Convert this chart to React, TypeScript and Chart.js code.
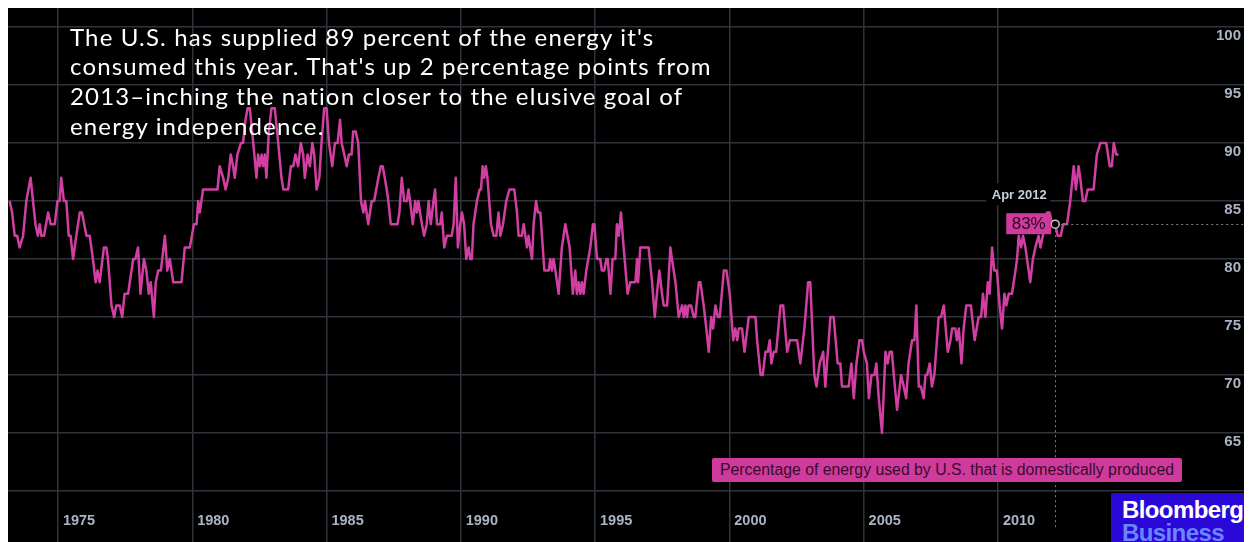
import React, { useEffect, useRef } from 'react';
import { Chart, registerables } from 'chart.js';

Chart.register(...registerables);

// ---- Data: percentage of energy used by U.S. that is domestically produced ----
// [decimal year, percent]
const SERIES_1973_1986: [number, number][] = [
  [1973.20, 85], [1973.29, 84], [1973.39, 82], [1973.48, 82], [1973.57, 81], [1973.70, 82], [1973.82, 85], [1973.98, 87],
  [1974.07, 85], [1974.16, 83], [1974.25, 82], [1974.32, 83], [1974.38, 82], [1974.48, 82], [1974.63, 84], [1974.73, 83],
  [1974.88, 83], [1974.98, 85], [1975.06, 85], [1975.12, 87], [1975.22, 85], [1975.31, 85], [1975.40, 82], [1975.47, 82],
  [1975.56, 80], [1975.68, 82], [1975.81, 84], [1975.89, 84], [1976.06, 82], [1976.18, 82], [1976.30, 80], [1976.40, 78],
  [1976.47, 79], [1976.55, 78], [1976.71, 81], [1976.80, 81], [1976.86, 80], [1976.99, 76], [1977.09, 75], [1977.17, 76],
  [1977.30, 76], [1977.39, 75], [1977.48, 77], [1977.61, 77], [1977.80, 80], [1977.88, 80], [1977.98, 81], [1978.07, 77],
  [1978.20, 80], [1978.29, 79], [1978.38, 77], [1978.45, 78], [1978.57, 75], [1978.64, 78], [1978.73, 79], [1978.83, 79],
  [1978.98, 82], [1979.07, 79], [1979.16, 80], [1979.29, 78], [1979.60, 78], [1979.72, 81], [1979.91, 81], [1980.06, 83],
  [1980.16, 83], [1980.22, 85], [1980.28, 84], [1980.40, 86], [1980.94, 86], [1981.02, 88], [1981.15, 87], [1981.24, 86],
  [1981.34, 87], [1981.43, 89], [1981.52, 88], [1981.58, 87], [1981.68, 89], [1981.81, 90], [1981.89, 90], [1981.98, 92],
  [1982.06, 93], [1982.14, 93], [1982.27, 90], [1982.39, 87], [1982.45, 89], [1982.52, 88], [1982.58, 89], [1982.64, 88],
  [1982.70, 89], [1982.76, 87], [1982.85, 91], [1982.95, 93], [1983.07, 93], [1983.20, 90], [1983.32, 87], [1983.39, 86],
  [1983.57, 86], [1983.67, 88], [1983.76, 88], [1983.84, 89], [1983.94, 88], [1984.04, 90], [1984.13, 89], [1984.19, 87],
  [1984.29, 89], [1984.38, 88], [1984.47, 90], [1984.54, 89], [1984.63, 86], [1984.73, 87], [1984.81, 90], [1984.91, 93],
  [1985.00, 93], [1985.09, 90], [1985.21, 88], [1985.31, 90], [1985.41, 90], [1985.50, 92], [1985.56, 90], [1985.66, 89],
  [1985.75, 88], [1985.83, 89], [1985.93, 89], [1985.99, 91], [1986.08, 91], [1986.18, 90], [1986.28, 85], [1986.37, 84],
  [1986.43, 85], [1986.55, 83],
];

const SERIES_1986_2000: [number, number][] = [
  [1986.68, 85], [1986.77, 85], [1986.93, 87], [1987.02, 88], [1987.09, 88], [1987.24, 86], [1987.30, 85], [1987.39, 83],
  [1987.64, 83], [1987.71, 84], [1987.80, 87], [1987.89, 85], [1987.99, 85], [1988.05, 86], [1988.11, 85], [1988.21, 83],
  [1988.30, 85], [1988.36, 84], [1988.42, 85], [1988.48, 84], [1988.55, 83], [1988.63, 82], [1988.73, 83], [1988.80, 85],
  [1988.88, 83], [1988.98, 85], [1989.04, 86], [1989.11, 83], [1989.23, 83], [1989.29, 84], [1989.38, 81], [1989.48, 82],
  [1989.66, 82], [1989.73, 83], [1989.81, 87], [1989.89, 81], [1989.98, 83], [1990.04, 84], [1990.12, 83], [1990.20, 80],
  [1990.29, 81], [1990.35, 80], [1990.41, 80], [1990.47, 83], [1990.60, 85], [1990.70, 86], [1990.75, 86], [1990.81, 88],
  [1990.87, 87], [1990.93, 88], [1990.99, 87], [1991.12, 83], [1991.22, 82], [1991.32, 82], [1991.40, 84], [1991.47, 82],
  [1991.57, 83], [1991.69, 85], [1991.81, 86], [1991.99, 86], [1992.09, 84], [1992.15, 82], [1992.27, 82], [1992.34, 83],
  [1992.46, 81], [1992.52, 82], [1992.58, 81], [1992.65, 80], [1992.71, 83], [1992.80, 85], [1992.87, 84], [1992.96, 84],
  [1993.11, 79], [1993.27, 79], [1993.33, 80], [1993.39, 79], [1993.45, 80], [1993.52, 79], [1993.64, 77], [1993.76, 81],
  [1993.89, 83], [1994.05, 81], [1994.17, 77], [1994.26, 79], [1994.32, 77], [1994.39, 78], [1994.45, 77], [1994.51, 78],
  [1994.57, 77], [1994.67, 79], [1994.82, 81], [1994.92, 83], [1994.97, 83], [1995.07, 80], [1995.19, 80], [1995.25, 79],
  [1995.34, 79], [1995.42, 80], [1995.47, 80], [1995.57, 77], [1995.65, 80], [1995.75, 80], [1995.81, 83], [1995.88, 82],
  [1995.96, 84], [1996.06, 81], [1996.21, 77], [1996.31, 78], [1996.50, 78], [1996.56, 80], [1996.60, 78], [1996.68, 81],
  [1996.99, 81], [1997.12, 78], [1997.22, 75], [1997.30, 77], [1997.39, 79], [1997.49, 77], [1997.55, 76], [1997.68, 76],
  [1997.80, 81], [1997.86, 80], [1997.99, 78], [1998.11, 75], [1998.24, 76], [1998.30, 75], [1998.36, 76], [1998.42, 75],
  [1998.48, 76], [1998.57, 76], [1998.67, 75], [1998.73, 75], [1998.86, 78], [1998.92, 78], [1999.04, 76], [1999.14, 74],
  [1999.23, 72], [1999.32, 75], [1999.39, 74], [1999.48, 76], [1999.57, 75], [1999.64, 75], [1999.79, 79], [1999.89, 79],
  [2000.01, 77],
];

const SERIES_2000_2014: [number, number][] = [
  [2000.14, 73], [2000.22, 74], [2000.29, 73], [2000.35, 74], [2000.47, 74], [2000.56, 72], [2000.72, 75], [2000.97, 75],
  [2001.03, 73], [2001.16, 70], [2001.24, 70], [2001.34, 72], [2001.43, 72], [2001.50, 73], [2001.56, 71], [2001.65, 72],
  [2001.74, 72], [2001.90, 76], [2002.00, 76], [2002.15, 72], [2002.25, 73], [2002.52, 73], [2002.64, 71], [2002.79, 74],
  [2002.93, 78], [2003.01, 78], [2003.16, 70], [2003.24, 69], [2003.36, 71], [2003.49, 72], [2003.57, 69], [2003.76, 75],
  [2003.88, 75], [2004.03, 71], [2004.13, 71], [2004.19, 69], [2004.44, 69], [2004.54, 71], [2004.63, 68], [2004.73, 71],
  [2004.84, 73], [2004.94, 73], [2005.00, 72], [2005.12, 71], [2005.19, 68], [2005.29, 70], [2005.40, 70], [2005.47, 71],
  [2005.56, 68], [2005.68, 65], [2005.81, 72], [2005.89, 71], [2005.97, 72], [2006.05, 72], [2006.12, 70], [2006.24, 67],
  [2006.39, 70], [2006.49, 69], [2006.58, 68], [2006.67, 71], [2006.80, 73], [2006.89, 73], [2006.96, 76], [2007.05, 69],
  [2007.13, 69], [2007.23, 68], [2007.30, 70], [2007.36, 70], [2007.46, 71], [2007.54, 69], [2007.63, 70], [2007.79, 75],
  [2007.88, 75], [2007.98, 76], [2008.13, 72], [2008.23, 73], [2008.29, 74], [2008.41, 74], [2008.47, 73], [2008.54, 74],
  [2008.64, 71], [2008.72, 74], [2008.82, 76], [2008.99, 76], [2009.13, 73], [2009.28, 75], [2009.37, 75], [2009.44, 77],
  [2009.53, 75], [2009.62, 78], [2009.69, 77], [2009.78, 81], [2009.86, 79], [2009.96, 79], [2010.06, 76], [2010.15, 74],
  [2010.24, 77], [2010.31, 76], [2010.40, 77], [2010.52, 77], [2010.65, 79], [2010.71, 80], [2010.77, 82], [2010.86, 81],
  [2010.93, 82], [2011.02, 81], [2011.08, 80], [2011.20, 78], [2011.30, 80], [2011.39, 81], [2011.51, 82], [2011.58, 81],
  [2011.67, 82], [2011.76, 83], [2011.82, 84], [2011.92, 84], [2012.01, 83], [2012.13, 83], [2012.22, 82], [2012.34, 82],
  [2012.42, 83], [2012.57, 83], [2012.69, 85], [2012.82, 88], [2012.90, 86], [2013.00, 88], [2013.06, 87], [2013.16, 85],
  [2013.25, 85], [2013.34, 86], [2013.56, 86], [2013.68, 89], [2013.81, 90], [2014.03, 90], [2014.16, 88], [2014.24, 88],
  [2014.31, 90], [2014.40, 89], [2014.49, 89],
];

const X_TICKS = [1975, 1980, 1985, 1990, 1995, 2000, 2005, 2010];
const Y_TICKS = [60, 65, 70, 75, 80, 85, 90, 95, 100];
const X_MIN = 1973.138;
const X_MAX = 2019.457;
const Y_MIN = 59.224;
const Y_MAX = 101.638;

const HOVER_YEAR = 2012.13;
const HOVER_LABEL = 'Apr 2012';

const TITLE_LINES = [
  "The U.S. has supplied 89 percent of the energy it's",
  "consumed this year. That's up 2 percentage points from",
  '2013\u2013inching the nation closer to the elusive goal of',
  'energy independence.',
];
const LEGEND_TEXT = 'Percentage of energy used by U.S. that is domestically produced';

const LINE_COLOR = '#d23fa2';
const GRID_COLOR = '#30343a';
const TICK_COLOR = '#a9b5c4';

const hoverPlugin = {
  id: 'hoverMarker',
  afterDatasetsDraw(chart: any) {
    const ds = chart.data.datasets[0].data as { x: number; y: number }[];
    const idx = ds.findIndex((p) => p.x === HOVER_YEAR);
    if (idx < 0) return;
    const el = chart.getDatasetMeta(0).data[idx];
    const x = el.x;
    const y = el.y;
    const ctx = chart.ctx as CanvasRenderingContext2D;
    const W = chart.width;
    ctx.save();
    // dashed guides
    ctx.setLineDash([2, 3]);
    ctx.strokeStyle = '#7c7f84';
    ctx.lineWidth = 1;
    ctx.beginPath();
    ctx.moveTo(Math.round(x) + 0.5, y + 6);
    ctx.lineTo(Math.round(x) + 0.5, chart.height - 12);
    ctx.moveTo(x + 6, Math.round(y) + 0.5);
    ctx.lineTo(W, Math.round(y) + 0.5);
    ctx.stroke();
    ctx.setLineDash([]);
    // right-edge marker
    ctx.fillStyle = LINE_COLOR;
    ctx.fillRect(W - 6, Math.round(y) - 1, 6, 2.5);
    // point ring
    ctx.beginPath();
    ctx.arc(x, y, 4, 0, Math.PI * 2);
    ctx.fillStyle = '#000';
    ctx.fill();
    ctx.lineWidth = 1.5;
    ctx.strokeStyle = '#c9c9c9';
    ctx.stroke();
    // value box
    const val = ds[idx].y;
    ctx.fillStyle = '#cf3b9c';
    ctx.fillRect(x - 49, y - 11, 45, 21);
    ctx.fillStyle = '#2a0820';
    ctx.font = '17px "Liberation Sans", Arial, sans-serif';
    ctx.textAlign = 'center';
    ctx.textBaseline = 'middle';
    ctx.fillText(`${val}%`, x - 26.5, y + 0.5);
    // date label
    ctx.fillStyle = '#000';
    ctx.fillRect(x - 69, y - 41, 64, 22);
    ctx.fillStyle = '#c6d0dc';
    ctx.font = 'bold 13px "Liberation Sans", Arial, sans-serif';
    ctx.fillText(HOVER_LABEL, x - 36, y - 29);
    ctx.restore();
  },
};

export default function App() {
  const ref = useRef<HTMLCanvasElement | null>(null);

  useEffect(() => {
    if (!ref.current) return;
    const points = [...SERIES_1973_1986, ...SERIES_1986_2000, ...SERIES_2000_2014].map(([x, y]) => ({ x, y }));
    const chart = new Chart(ref.current, {
      type: 'line',
      data: {
        datasets: [
          {
            data: points,
            borderColor: LINE_COLOR,
            borderWidth: 2.5,
            pointRadius: 0,
            tension: 0,
            borderJoinStyle: 'round',
            fill: false,
          },
        ],
      },
      options: {
        animation: false,
        responsive: false,
        devicePixelRatio: 1,
        parsing: false,
        layout: { padding: 0 },
        plugins: { legend: { display: false }, tooltip: { enabled: false }, title: { display: false } },
        events: [],
        scales: {
          x: {
            type: 'linear',
            position: 'bottom',
            min: X_MIN,
            max: X_MAX,
            afterBuildTicks: (s: any) => {
              s.ticks = X_TICKS.map((v) => ({ value: v }));
            },
            afterFit: (s: any) => {
              s.height = 42;
            },
            grid: { color: GRID_COLOR, lineWidth: 1.5, drawTicks: true, tickLength: 42 },
            border: { display: false },
            ticks: {
              color: TICK_COLOR,
              font: { family: '"Liberation Sans", Arial, sans-serif', size: 14.5, weight: 'bold' },
              padding: -30.2,
              labelOffset: 21,
              maxRotation: 0,
              autoSkip: false,
              callback: (v: any) => String(v),
            },
          },
          y: {
            type: 'linear',
            position: 'right',
            min: Y_MIN,
            max: Y_MAX,
            afterBuildTicks: (s: any) => {
              s.ticks = Y_TICKS.map((v) => ({ value: v }));
            },
            afterFit: (s: any) => {
              s.width = 0;
            },
            grid: { color: GRID_COLOR, lineWidth: 1.5, drawTicks: false },
            border: { display: false },
            ticks: {
              mirror: true,
              padding: -11,
              labelOffset: 9,
              color: TICK_COLOR,
              font: { family: '"Liberation Sans", Arial, sans-serif', size: 15, weight: 'bold' },
              autoSkip: false,
              callback: (v: any) => (v === 60 ? '' : String(v)),
            },
          },
        },
      } as any,
      plugins: [hoverPlugin],
    });
    return () => chart.destroy();
  }, []);

  return (
    <div style={{ position: 'relative', width: 1244, height: 534, background: '#000', overflow: 'hidden' }}>
      <style>{'html,body{overflow:hidden;}'}</style>
      <canvas ref={ref} width={1244} height={534} style={{ display: 'block', width: 1244, height: 534 }} />
      <div
        style={{
          position: 'absolute',
          left: 62,
          top: 13.6,
          color: '#ffffff',
          fontFamily: 'Lato, "Open Sans", sans-serif',
          fontSize: 24,
          lineHeight: '29.7px',
          letterSpacing: '1.15px',
          whiteSpace: 'nowrap',
        }}
      >
        {TITLE_LINES.map((l, i) => (
          <div key={i}>{l}</div>
        ))}
      </div>
      <div
        style={{
          position: 'absolute',
          left: 704,
          top: 450,
          width: 470,
          height: 24,
          background: '#cf3b9c',
          borderRadius: 2,
          color: '#3a0a2b',
          fontFamily: '"Liberation Sans", Arial, sans-serif',
          fontSize: 15.8,
          lineHeight: '24px',
          paddingLeft: 8,
          boxSizing: 'border-box',
          whiteSpace: 'nowrap',
        }}
      >
        {LEGEND_TEXT}
      </div>
      <div
        style={{
          position: 'absolute',
          left: 1103,
          top: 485,
          width: 141,
          height: 49,
          background: '#2a08d8',
          overflow: 'hidden',
          fontFamily: '"Liberation Sans", Arial, sans-serif',
          fontWeight: 'bold',
          fontSize: 24,
          letterSpacing: '-0.6px',
        }}
      >
        <div style={{ position: 'absolute', left: 11, top: 4, lineHeight: '26px', color: '#ffffff' }}>Bloomberg</div>
        <div style={{ position: 'absolute', left: 11, top: 27, lineHeight: '26px', color: '#6a86ff' }}>Business</div>
      </div>
    </div>
  );
}
